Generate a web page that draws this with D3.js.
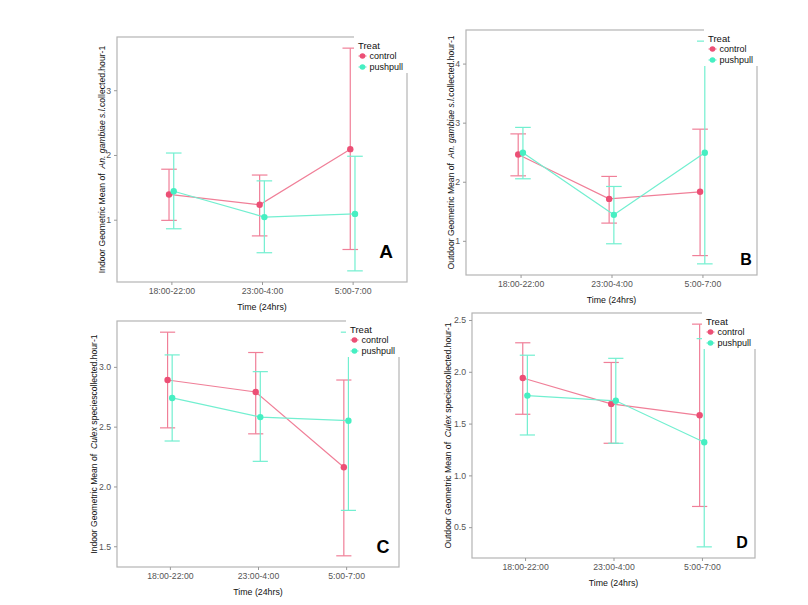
<!DOCTYPE html>
<html>
<head>
<meta charset="utf-8">
<script src="https://cdn.jsdelivr.net/npm/d3@7"></script>
<style>
  body { margin: 0; background: #fff; }
  text { font-family: "Liberation Sans", Arial, sans-serif; }
</style>
</head>
<body>
<div id="chart"></div>
<script>
// categories
var times = ["18:00-22:00", "23:00-4:00", "5:00-7:00"];
var treats = ["control", "pushpull"];

// panel A: indoor An. gambiae
var aControlMean = [1.39, 1.23, 2.09], aControlLow = [0.99, 0.75, 0.54], aControlHigh = [1.78, 1.69, 3.65];
var aPushMean = [1.44, 1.04, 1.09], aPushLow = [0.86, 0.49, 0.21], aPushHigh = [2.03, 1.60, 1.98];
// panel B: outdoor An. gambiae
var bControlMean = [2.46, 1.71, 1.83], bControlLow = [2.10, 1.30, 0.75], bControlHigh = [2.81, 2.09, 2.89];
var bPushMean = [2.49, 1.44, 2.49], bPushLow = [2.05, 0.95, 0.61], bPushHigh = [2.92, 1.92, 4.38];
// panel C: indoor Culex
var cControlMean = [2.89, 2.79, 2.16], cControlLow = [2.49, 2.44, 1.42], cControlHigh = [3.29, 3.12, 2.89];
var cPushMean = [2.74, 2.58, 2.55], cPushLow = [2.38, 2.21, 1.80], cPushHigh = [3.10, 2.96, 3.29];
// panel D: outdoor Culex
var dControlMean = [1.94, 1.69, 1.58], dControlLow = [1.59, 1.31, 0.70], dControlHigh = [2.28, 2.09, 2.46];
var dPushMean = [1.77, 1.72, 1.32], dPushLow = [1.39, 1.31, 0.31], dPushHigh = [2.16, 2.13, 2.32];

// y tick labels
var aTicks = [1, 2, 3], bTicks = [1, 2, 3, 4], cTicks = [1.5, 2.0, 2.5, 3.0], dTicks = [0.5, 1.0, 1.5, 2.0, 2.5];

var pointColor = { control: "#ec4f75", pushpull: "#46efc2" };
var lineColor = { control: "#f07f98", pushpull: "#72efd0" };

var svg = d3.select("#chart").append("svg")
    .attr("width", 808)
    .attr("height", 605);

function series(mean, low, high) {
    return times.map(function (t, i) { return { time: t, mean: mean[i], low: low[i], high: high[i] }; });
}

var panels = [
    { box: [117, 37, 407, 282], letter: "A", lx: -21, ly: -24, ls: 19, tx: 15.5, fmt: "d",
      prefix: "Indoor Geometric Mean of  ", italic: "An. gambiae s.l.", suffix: "collected.hour-1",
      ticks: aTicks, data: { control: series(aControlMean, aControlLow, aControlHigh), pushpull: series(aPushMean, aPushLow, aPushHigh) } },
    { box: [466, 30, 757, 275], letter: "B", lx: -11, ly: -10, ls: 16, tx: 15, fmt: "d",
      prefix: "Outdoor Geometric Mean of  ", italic: "An. gambiae s.l.", suffix: "collected.hour-1",
      ticks: bTicks, data: { control: series(bControlMean, bControlLow, bControlHigh), pushpull: series(bPushMean, bPushLow, bPushHigh) } },
    { box: [117, 321, 399, 567], letter: "C", lx: -16, ly: -14, ls: 18, tx: 23.5, fmt: ".1f",
      prefix: "Indoor Geometric Mean of  ", italic: "Culex", suffix: " speciescollected.hour-1",
      ticks: cTicks, data: { control: series(cControlMean, cControlLow, cControlHigh), pushpull: series(cPushMean, cPushLow, cPushHigh) } },
    { box: [472, 313, 755, 558], letter: "D", lx: -13, ly: -10, ls: 16, tx: 24.5, fmt: ".1f",
      prefix: "Outdoor Geometric Mean of  ", italic: "Culex", suffix: " speciescollected.hour-1",
      ticks: dTicks, data: { control: series(dControlMean, dControlLow, dControlHigh), pushpull: series(dPushMean, dPushLow, dPushHigh) } }
];

panels.forEach(function (p) {
    var left = p.box[0], top = p.box[1], right = p.box[2], bottom = p.box[3];
    var g = svg.append("g");

    // y domain: data range expanded 5% like ggplot
    var all = [];
    treats.forEach(function (t) { p.data[t].forEach(function (d) { all.push(d.low, d.high); }); });
    var lo = d3.min(all), hi = d3.max(all), pad = (hi - lo) * 0.05;

    var x = d3.scalePoint().domain(times).range([left, right]).padding(0.6);
    var y = d3.scaleLinear().domain([lo - pad, hi + pad]).range([bottom, top]);
    var step = x.step();
    var dodge = { control: -step * 0.026, pushpull: step * 0.026 };
    var capW = step * 0.086;

    // panel box
    g.append("rect")
        .attr("x", left).attr("y", top)
        .attr("width", right - left).attr("height", bottom - top)
        .attr("fill", "none")
        .attr("stroke", "#b4b4b4")
        .attr("stroke-width", 1.2);

    // axes
    var yAxis = g.append("g")
        .attr("transform", "translate(" + left + ",0)")
        .call(d3.axisLeft(y).tickValues(p.ticks).tickSize(3).tickPadding(3).tickFormat(d3.format(p.fmt)));
    var xAxis = g.append("g")
        .attr("transform", "translate(0," + bottom + ")")
        .call(d3.axisBottom(x).tickSize(3).tickPadding(3));
    [xAxis, yAxis].forEach(function (ax) {
        ax.select(".domain").remove();
        ax.selectAll(".tick line").attr("stroke", "#999");
        ax.selectAll(".tick text").attr("fill", "#555").style("font-size", "8.7px");
    });

    // lines, error bars, points
    var line = d3.line()
        .x(function (d) { return x(d.time) + d.off; })
        .y(function (d) { return y(d.mean); });

    treats.forEach(function (t) {
        var rows = p.data[t].map(function (d) { return Object.assign({ off: dodge[t] }, d); });
        var sg = g.append("g");
        sg.append("path")
            .datum(rows)
            .attr("fill", "none")
            .attr("stroke", lineColor[t])
            .attr("stroke-width", 1.2)
            .attr("d", line);
        var eb = sg.selectAll(".eb").data(rows).enter().append("g");
        eb.append("line")
            .attr("x1", function (d) { return x(d.time) + d.off; })
            .attr("x2", function (d) { return x(d.time) + d.off; })
            .attr("y1", function (d) { return y(d.low); })
            .attr("y2", function (d) { return y(d.high); })
            .attr("stroke", lineColor[t]).attr("stroke-width", 1.2);
        ["low", "high"].forEach(function (k) {
            eb.append("line")
                .attr("x1", function (d) { return x(d.time) + d.off - capW; })
                .attr("x2", function (d) { return x(d.time) + d.off + capW; })
                .attr("y1", function (d) { return y(d[k]); })
                .attr("y2", function (d) { return y(d[k]); })
                .attr("stroke", lineColor[t]).attr("stroke-width", 1.2);
        });
        sg.selectAll(".pt").data(rows).enter().append("circle")
            .attr("cx", function (d) { return x(d.time) + d.off; })
            .attr("cy", function (d) { return y(d.mean); })
            .attr("r", 3.2)
            .attr("fill", pointColor[t]);
    });

    // y title
    var yt = g.append("text")
        .attr("transform", "translate(" + (left - p.tx) + "," + ((top + bottom) / 2) + ") rotate(-90)")
        .attr("text-anchor", "middle")
        .attr("dy", "0.35em")
        .style("font-size", "8.6px")
        .style("white-space", "pre")
        .attr("fill", "#111");
    yt.append("tspan").text(p.prefix);
    yt.append("tspan").style("font-style", "italic").text(p.italic);
    yt.append("tspan").text(p.suffix);

    // x title
    g.append("text")
        .attr("x", (left + right) / 2)
        .attr("y", bottom + 27.5)
        .attr("text-anchor", "middle")
        .style("font-size", "8.8px")
        .attr("fill", "#111")
        .text("Time (24hrs)");

    // legend (white key box covering the top right corner)
    var lg = g.append("g").attr("transform", "translate(" + (right - 50) + "," + (top + 8) + ")");
    lg.append("rect")
        .attr("x", -3).attr("y", -12)
        .attr("width", 56).attr("height", 40)
        .attr("fill", "#fff");
    lg.append("text").attr("x", 1).attr("y", 3.5)
        .style("font-size", "9.5px").attr("fill", "#111").text("Treat");
    treats.forEach(function (t, i) {
        var cy = 11 + i * 11;
        lg.append("line")
            .attr("x1", 1.5).attr("x2", 9.5).attr("y1", cy).attr("y2", cy)
            .attr("stroke", lineColor[t]).attr("stroke-width", 1.2);
        lg.append("circle").attr("cx", 5.5).attr("cy", cy).attr("r", 2.8).attr("fill", pointColor[t]);
        lg.append("text").attr("x", 12.5).attr("y", cy + 3.3)
            .style("font-size", "9px").attr("fill", "#111").text(t);
    });

    // panel letter
    g.append("text")
        .attr("x", right + p.lx)
        .attr("y", bottom + p.ly)
        .attr("text-anchor", "middle")
        .style("font-size", p.ls + "px")
        .style("font-weight", "bold")
        .attr("fill", "#000")
        .text(p.letter);
});
</script>
</body>
</html>
